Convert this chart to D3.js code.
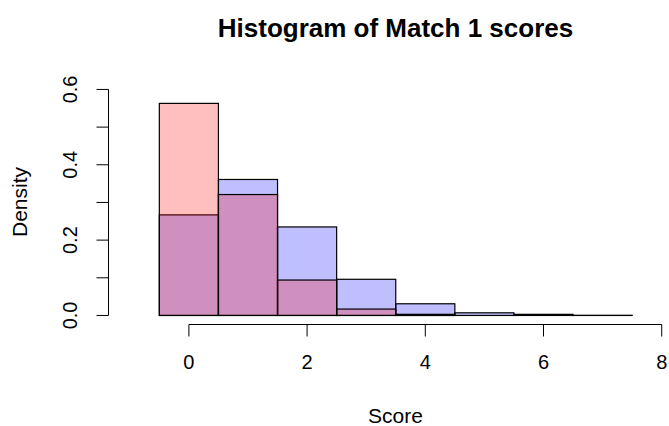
<!DOCTYPE html>
<html>
<head>
<meta charset="utf-8">
<script src="https://cdn.jsdelivr.net/npm/d3@7"></script>
<style>
  body { margin: 0; background: #fff; }
  text { font-family: "Liberation Sans", Arial, sans-serif; fill: #000; }
</style>
</head>
<body>
<div id="chart"></div>
<script>
// bins are centred on the integer scores, width 1
let binStarts = [-0.5, 0.5, 1.5, 2.5, 3.5, 4.5, 5.5, 6.5];
let blueDensity = [0.267, 0.361, 0.235, 0.096, 0.031, 0.007, 0.003, 0.0005];
let redDensity = [0.563, 0.321, 0.094, 0.017, 0.003, 0.0, 0.0, 0.0];

let xTicks = [0, 2, 4, 6, 8];
let yTicks = [0.0, 0.1, 0.2, 0.3, 0.4, 0.5, 0.6];
let yTickLabels = ["0.0", "", "0.2", "", "0.4", "", "0.6"];

let width = 669, height = 426;

let svg = d3.select("#chart")
    .append("svg")
    .attr("width", width)
    .attr("height", height);

// R style user coordinates (4% padding on each side)
let x = d3.scaleLinear().domain([-1.36, 8.36]).range([108.5, 683]);
let y = d3.scaleLinear().domain([-0.024, 0.624]).range([324.5, 80.4]);

let blueBins = binStarts.map((s, i) => ({ x0: s, x1: s + 1, v: blueDensity[i] }));
let redBins = binStarts.map((s, i) => ({ x0: s, x1: s + 1, v: redDensity[i] }))
    .filter(d => d.v > 0);

function drawHist(bins, fill, cls) {
    svg.selectAll("rect." + cls)
        .data(bins)
        .enter().append("rect")
        .attr("class", cls)
        .attr("x", d => x(d.x0))
        .attr("width", d => x(d.x1) - x(d.x0))
        .attr("y", d => y(d.v))
        .attr("height", d => Math.max(0.2, y(0) - y(d.v)))
        .style("fill", fill)
        .style("stroke", "#000")
        .style("stroke-width", 1.2);
}

drawHist(blueBins, "rgba(0,0,255,0.25)", "blue");
drawHist(redBins, "rgba(255,0,0,0.25)", "red");

// x axis, drawn by hand to look like base R
let xAxis = svg.append("g").attr("class", "x-axis");
xAxis.append("line")
    .attr("x1", x(xTicks[0])).attr("x2", x(xTicks[xTicks.length - 1]))
    .attr("y1", 324.5).attr("y2", 324.5)
    .style("stroke", "#000");
xAxis.selectAll("line.tick")
    .data(xTicks)
    .enter().append("line")
    .attr("class", "tick")
    .attr("x1", d => x(d)).attr("x2", d => x(d))
    .attr("y1", 324.5).attr("y2", 336.5)
    .style("stroke", "#000");
xAxis.selectAll("text")
    .data(xTicks)
    .enter().append("text")
    .attr("x", d => x(d))
    .attr("y", 369)
    .attr("text-anchor", "middle")
    .style("font-size", "20px")
    .text(d => d);

// y axis
let yAxis = svg.append("g").attr("class", "y-axis");
yAxis.append("line")
    .attr("x1", 108.5).attr("x2", 108.5)
    .attr("y1", y(yTicks[0])).attr("y2", y(yTicks[yTicks.length - 1]))
    .style("stroke", "#000");
yAxis.selectAll("line.tick")
    .data(yTicks)
    .enter().append("line")
    .attr("class", "tick")
    .attr("x1", 96.5).attr("x2", 108.5)
    .attr("y1", d => y(d)).attr("y2", d => y(d))
    .style("stroke", "#000");
yAxis.selectAll("text")
    .data(yTicks)
    .enter().append("text")
    .attr("transform", d => "translate(77," + y(d) + ") rotate(-90)")
    .attr("text-anchor", "middle")
    .style("font-size", "20px")
    .text((d, i) => yTickLabels[i]);

// titles
svg.append("text")
    .attr("x", 395.5)
    .attr("y", 37)
    .attr("text-anchor", "middle")
    .style("font-size", "26px")
    .style("font-weight", "bold")
    .text("Histogram of Match 1 scores");

svg.append("text")
    .attr("x", 395.5)
    .attr("y", 423)
    .attr("text-anchor", "middle")
    .style("font-size", "21px")
    .text("Score");

svg.append("text")
    .attr("transform", "translate(27,202) rotate(-90)")
    .attr("text-anchor", "middle")
    .style("font-size", "21px")
    .text("Density");
</script>
</body>
</html>
